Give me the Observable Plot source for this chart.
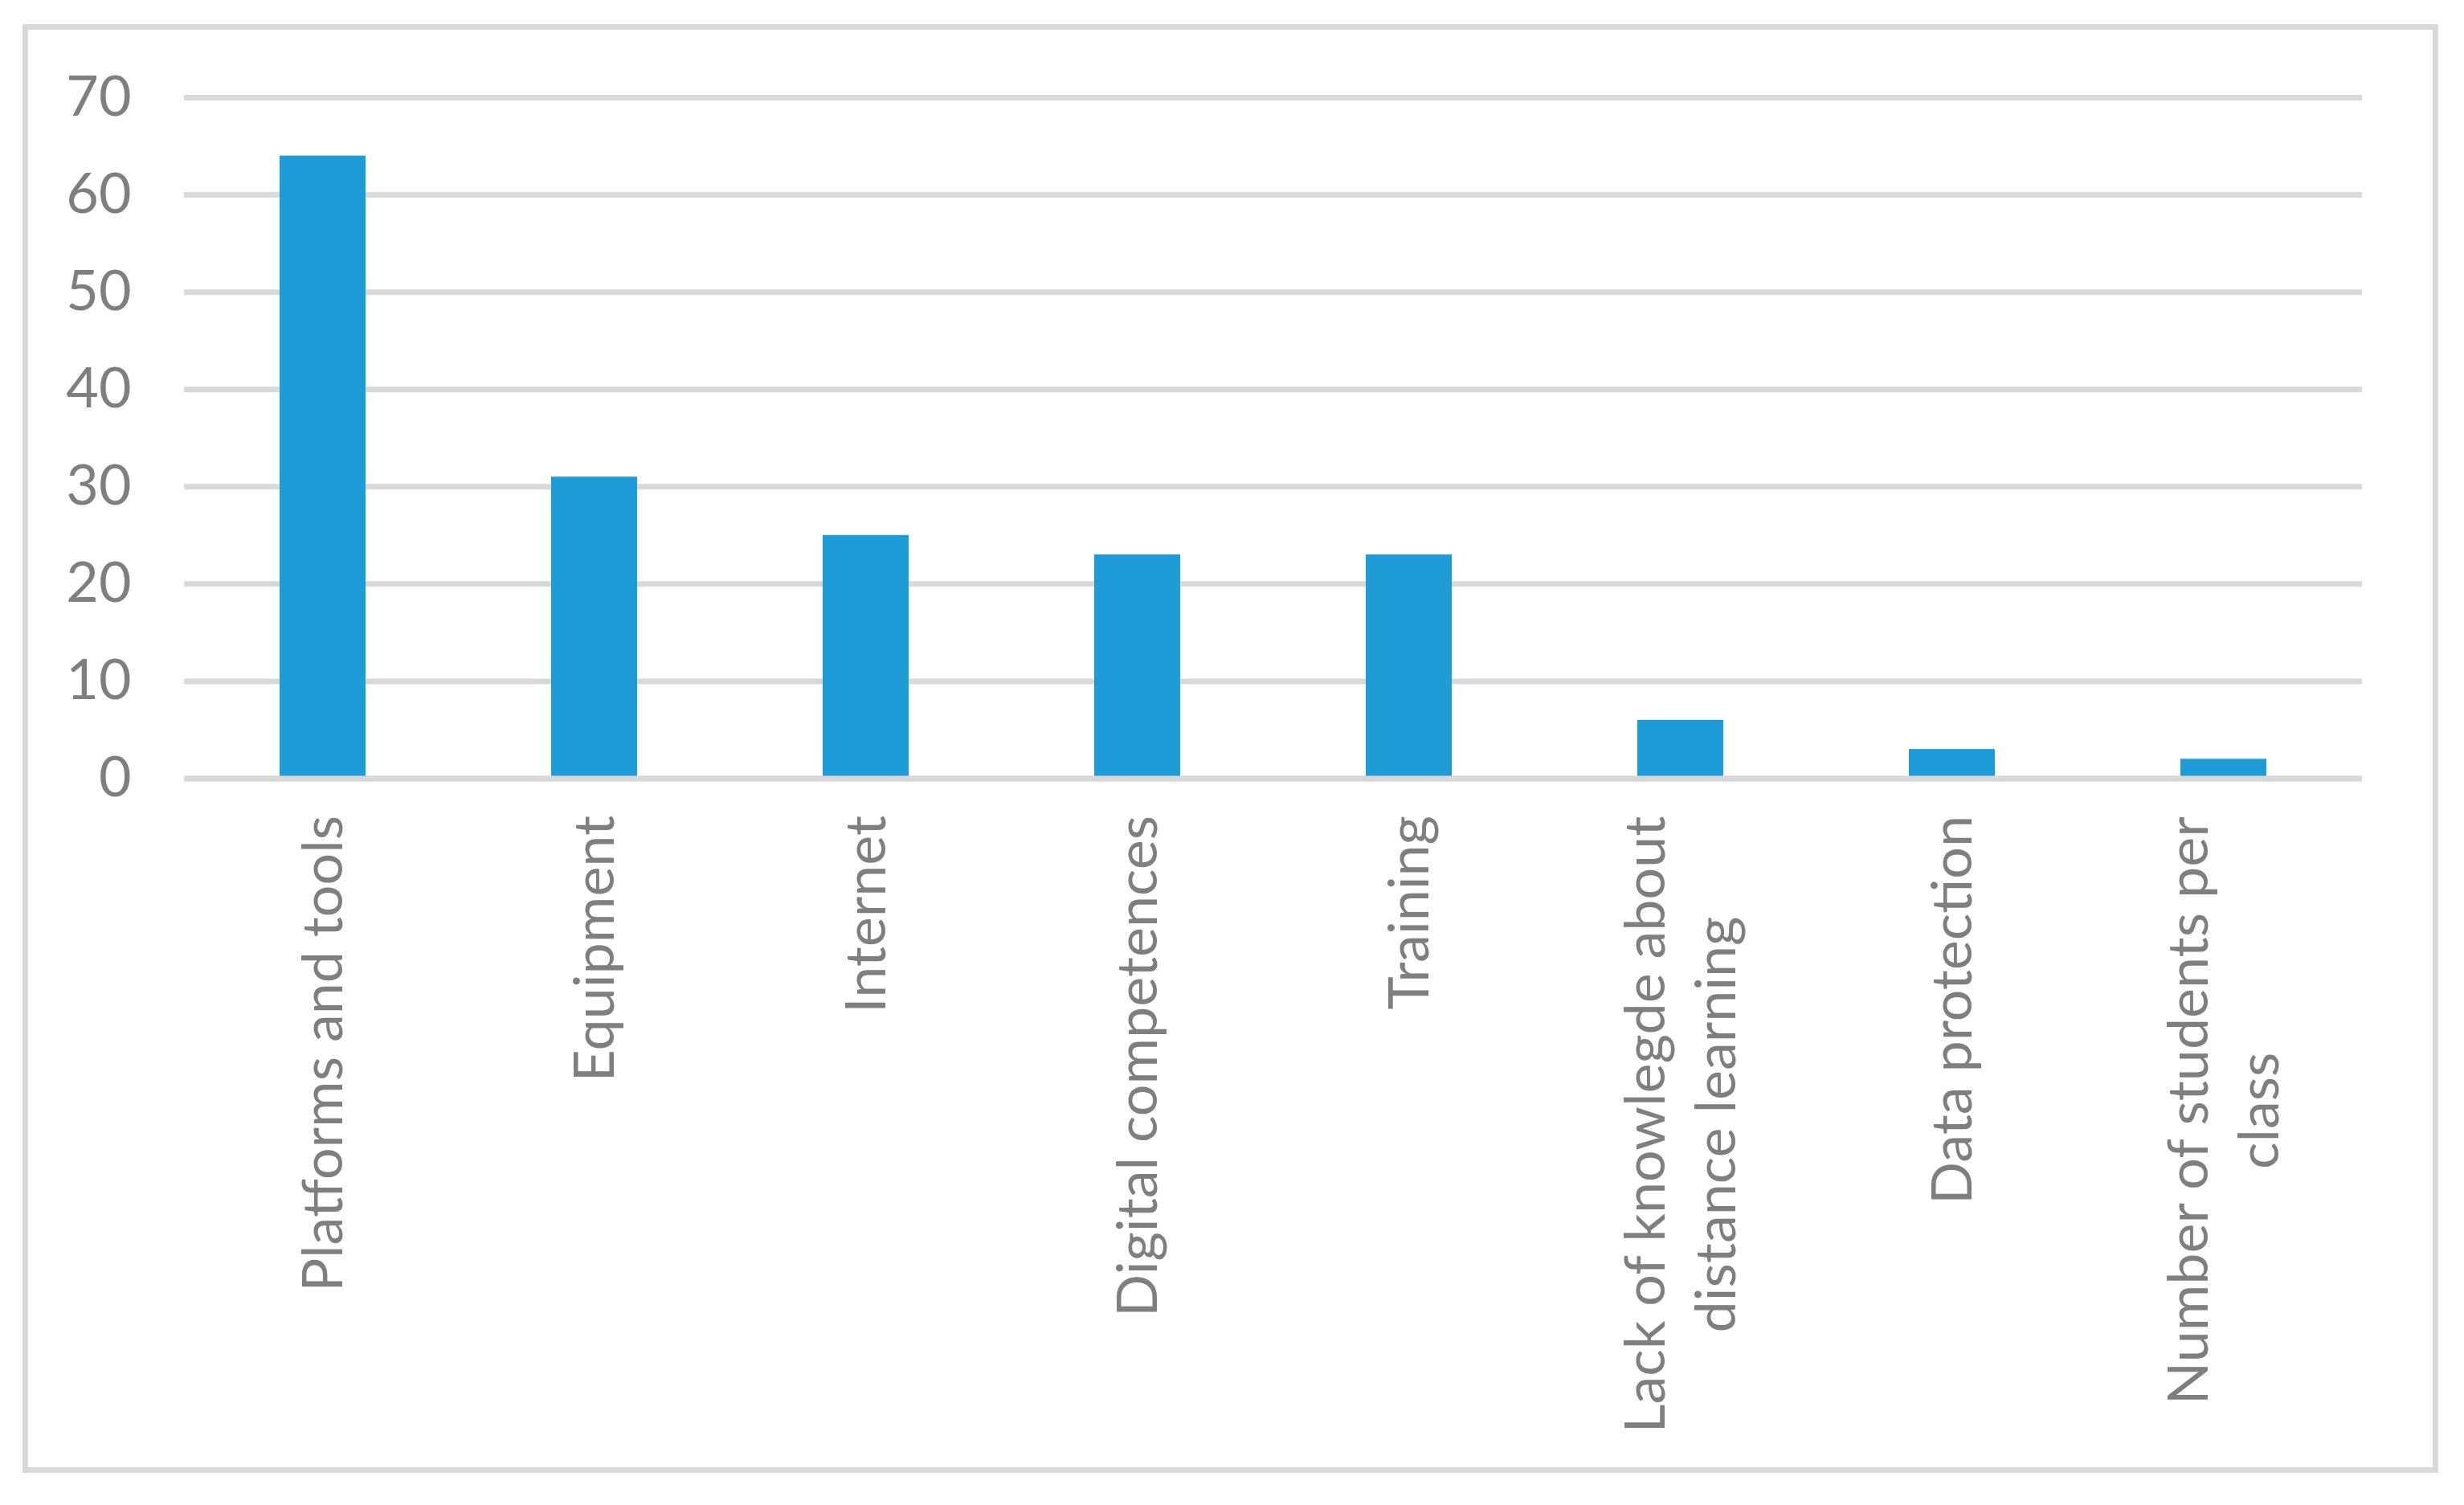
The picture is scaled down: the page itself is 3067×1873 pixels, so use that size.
<!DOCTYPE html>
<html><head><meta charset="utf-8">
<script src="https://cdn.jsdelivr.net/npm/d3@7"></script>
<script src="https://cdn.jsdelivr.net/npm/@observablehq/plot@0.6"></script>
<style>
html,body{margin:0;padding:0;background:#fff;}
#wrap{position:relative;width:3067px;height:1873px;overflow:hidden;}
#chart{position:absolute;left:0;top:0;}
#frame{position:absolute;left:28px;top:30px;width:3007px;height:1803px;border:7px solid #d9d9d9;box-sizing:border-box;pointer-events:none;}
</style></head>
<body><div id="wrap"><div id="chart"></div><div id="frame"></div></div>
<script>
const categories = ["Platforms and tools","Equipment","Internet","Digital competences","Training","Lack of knowlegde about\ndistance learning","Data protection","Number of students per\nclass"];
const values = [64,31,25,23,23,6,3,2];
const yTicks = [0,10,20,30,40,50,60,70];
const data = categories.map((c,i)=>({category:c, value:values[i]}));

const FONT = "Lato";
const FS = 70;
const ctx = document.createElement("canvas").getContext("2d");
ctx.font = `${FS}px ${FONT}`;
const widthOf = s => Math.max(...s.split("\n").map(l=>ctx.measureText(l).width));
const labelGap = 46;

const labelMarks = categories.map(c => Plot.text([c], {
  x: d=>d, y: ()=>0, text: d=>d, rotate: -90,
  textAnchor: "middle", lineAnchor: "middle", lineHeight: 1.25,
  dy: labelGap + widthOf(c)/2, dx: -4, fill: "#7f7f7f", fontSize: FS
}));

const chart = Plot.plot({
  width: 3067, height: 1873,
  marginLeft: 229, marginRight: 127, marginTop: 121, marginBottom: 904.5,
  x: {domain: categories, paddingInner: 0.684, paddingOuter: 0.342, axis: null},
  y: {domain: [0,70]},
  style: {fontFamily: FONT, background: "transparent"},
  marks: [
    Plot.ruleY(yTicks, {stroke:"#d9d9d9", strokeWidth: 7}),
    Plot.barY(data, {x:"category", y:"value", fill:"#1e9cd8"}),
    Plot.ruleY([0], {stroke:"#d9d9d9", strokeWidth: 7}),
    Plot.axisY({ticks: yTicks, tickSize: 0, tickPadding: 66, fontSize: FS, color: "#7f7f7f", label: null, tickFormat: d=>String(d)}),
    ...labelMarks
  ]
});
document.getElementById("chart").appendChild(chart);
</script>
</body></html>
